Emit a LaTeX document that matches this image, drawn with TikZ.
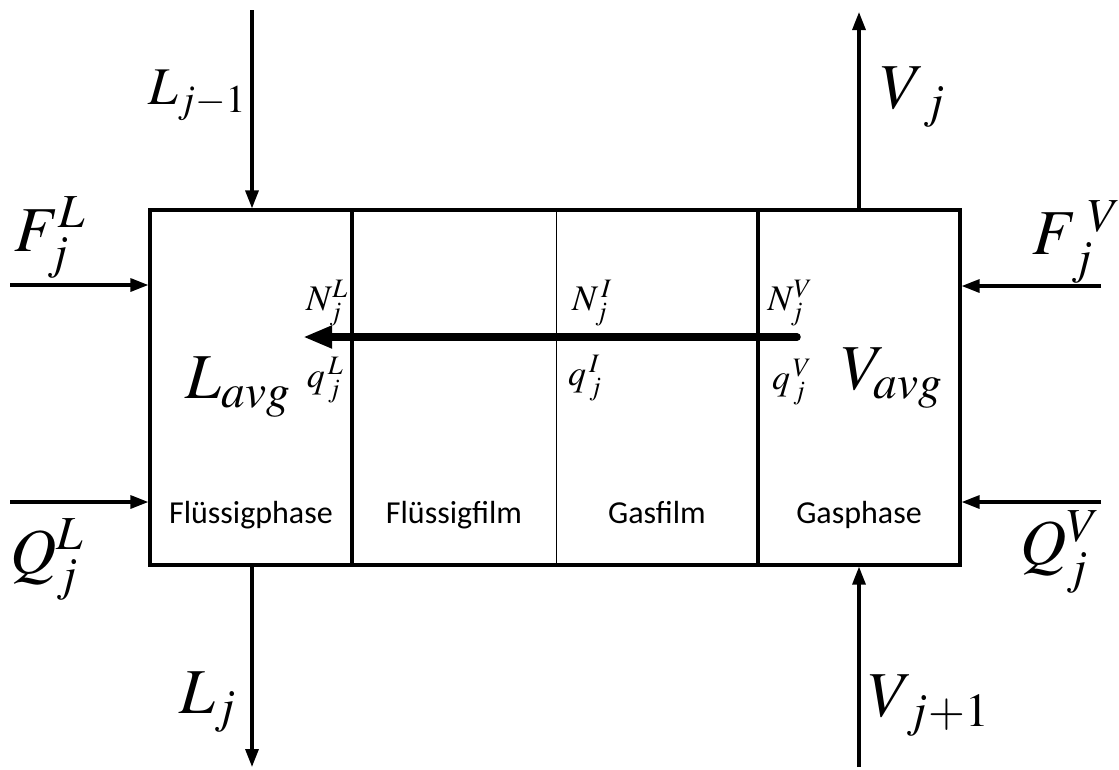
\documentclass[tikz,border=0pt]{standalone}
\usepackage{mathptmx}
\usepackage{fontspec}
\newfontfamily\boxfont{Carlito}
\usetikzlibrary{arrows.meta}
\tikzset{
  flow/.style={line width=3.2pt,-{Triangle[length=18pt,width=13pt]}},
  wall/.style={line width=3.2pt},
  big/.style={font=\fontsize{64}{70}\selectfont,inner sep=0pt},
  mid/.style={font=\fontsize{53}{60}\selectfont,inner sep=0pt},
  small/.style={font=\fontsize{36}{40}\selectfont,inner sep=0pt},
  phase/.style={font=\boxfont\fontsize{32}{36}\selectfont,inner sep=0pt,anchor=base}
}

\begin{document}
\begin{tikzpicture}[x=1pt,y=-1pt]
\useasboundingbox (0,0) rectangle (1119,769);
\node[draw,wall,minimum width=810pt,minimum height=355pt,inner sep=0pt] (box) at (555,387.5) {};
\draw[wall] (352,210)--(352,565);
\draw[line width=1pt] (556,210)--(556,565);
\draw[wall] (758,210)--(758,565);
\coordinate (Lin) at (252,10);
\coordinate (Lout) at (252,767);
\coordinate (Vout) at (859,12);
\coordinate (Vin) at (859,767);
\coordinate (FLin) at (10,285);
\coordinate (QLin) at (10,502);
\coordinate (FVin) at (1101,286);
\coordinate (QVin) at (1101,502);
\draw[flow] (Lin)--(Lin |- box.north);
\draw[flow] (Lout |- box.south)--(Lout);
\draw[flow] (Vout |- box.north)--(Vout);
\draw[flow] (Vin)--(Vin |- box.south);
\draw[flow] (FLin)--(FLin -| box.west);
\draw[flow] (QLin)--(QLin -| box.west);
\draw[flow] (FVin)--(FVin -| box.east);
\draw[flow] (QVin)--(QVin -| box.east);
\coordinate (Nfrom) at (797,337);
\coordinate (Nto) at (303,337);
\draw[line width=7.5pt,line cap=round,-{Triangle[length=29pt,width=21pt]}] (Nfrom)--(Nto);
% stream labels
\node[mid] (Lprev) at (197,95) {$L_{j-1}$};
\node[big] (Lcur) at (208,702) {$L_j$};
\node[big] (Vcur) at (913,97) {$V_{\;j}$};
\node[big] (Vnext) at (929,706) {$V_{\,j+1}$};
\node[big] (FL) at (50,238) {$F_j^L$};
\node[big] (QL) at (47,560) {$Q_j^L$};
\node[big] (FV) at (1077,242) {$F_{\,j}^{\;V}$};
\node[big] (QV) at (1060,552) {$Q_j^V$};
\node[big] (Lavg) at (238,387) {$L_{avg}$};
\node[big] (Vavg) at (892,378) {$V_{avg}$};
% fluxes at the walls
\node[small] (NL) at (327,303) {$N_j^L$};
\node[small] (qL) at (325,380) {$q^{\,L}_{\,j}$};
\node[small] (NI) at (592,303) {$N^{\,I}_j$};
\node[small] (qI) at (585,378) {$q^{\,I}_{\,j}$};
\node[small] (NV) at (790,303) {$N^V_j$};
\node[small] (qV) at (792,382) {$q^{\,V}_{\,j}$};
% phases
\node[phase] (liq) at (251,523) {Flüssigphase};
\node[phase] (liqfilm) at (454,523) {Flüssigfilm};
\node[phase] (gasfilm) at (657,523) {Gasfilm};
\node[phase] (gas) at (859,523) {Gasphase};
\end{tikzpicture}
\end{document}
